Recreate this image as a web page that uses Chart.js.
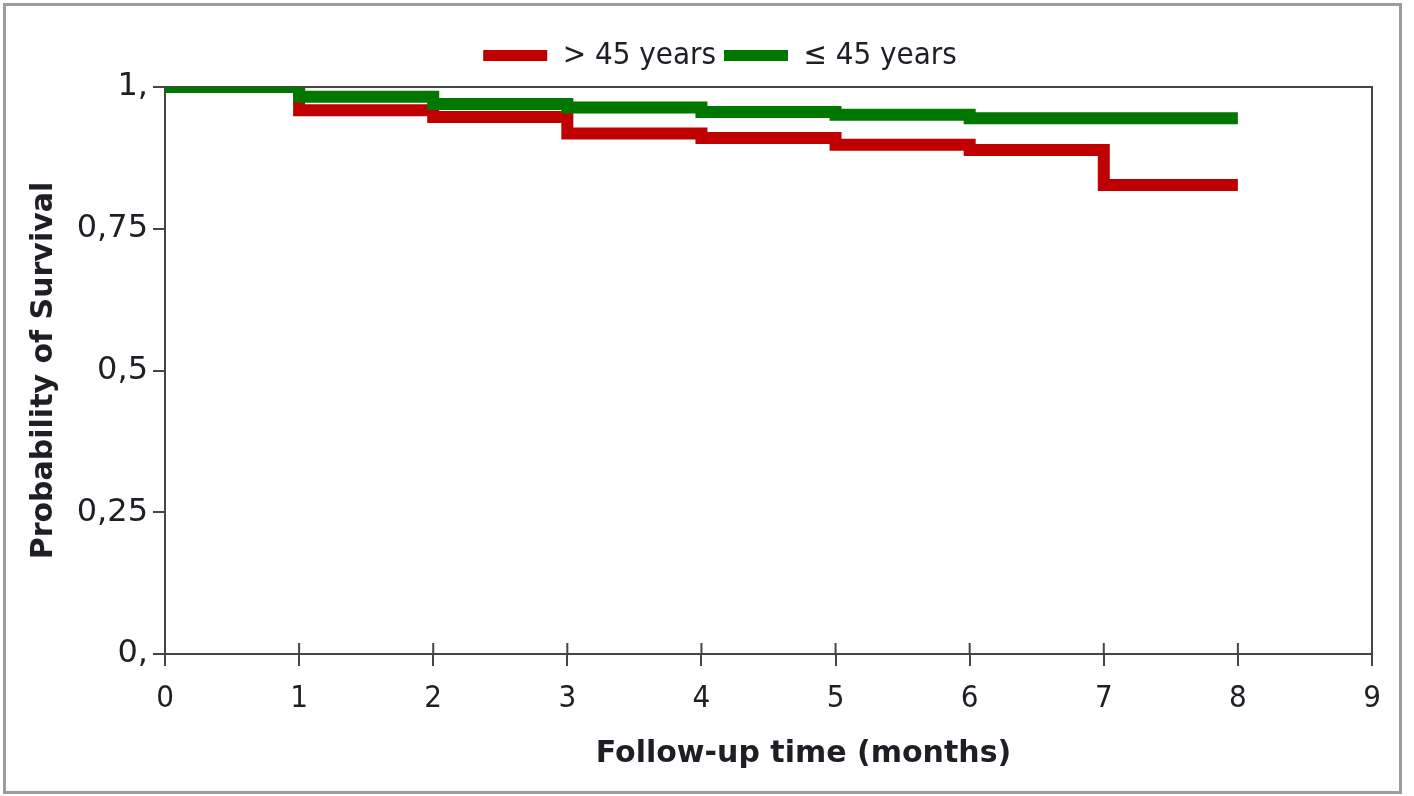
<!DOCTYPE html>
<html><head><meta charset="utf-8">
<script src="https://cdn.jsdelivr.net/npm/chart.js@4.4.1/dist/chart.umd.min.js"></script>
<style>
html,body{margin:0;padding:0;background:#fff;}
#wrap{position:relative;width:1414px;height:796px;}
#frame{position:absolute;left:3px;top:3px;width:1393px;height:785px;border:3px solid #9c9c9c;pointer-events:none;box-sizing:content-box;}
canvas{display:block;}
</style></head><body>
<div id="wrap"><canvas id="c" width="1414" height="796"></canvas><div id="frame"></div></div>
<script>
const seriesNames = ['> 45 years', '\u2264 45 years'];
const timePoints = [0, 1, 2, 3, 4, 5, 6, 7, 8];
const survivalOver45 = [1.0, 0.959, 0.947, 0.918, 0.910, 0.898, 0.889, 0.827, 0.827];
const survivalUpTo45 = [1.0, 0.983, 0.970, 0.964, 0.956, 0.951, 0.945, 0.945, 0.945];
const xTickLabels = ['0', '1', '2', '3', '4', '5', '6', '7', '8', '9'];
const yTickLabels = ['0,', '0,25', '0,5', '0,75', '1,'];
const xAxisTitle = 'Follow-up time (months)';
const yAxisTitle = 'Probability of Survival';

const AREA = {left: 165, right: 1372, top: 87, bottom: 654};
const PAD = {top: 32, left: 26, right: 0, bottom: 0};
const tickFont = {family: '"DejaVu Sans Condensed", "DejaVu Sans", sans-serif', size: 31};
const yTickFont = {family: '"DejaVu Sans", sans-serif', size: 32};
const titleFont = {family: '"DejaVu Sans", sans-serif', size: 30, weight: 'bold'};
const axisColor = '#454545';
const textColor = '#1e1e24';

const extraMarks = {
  id: 'extraMarks',
  afterDraw(chart) {
    const {ctx, chartArea, scales: {x}} = chart;
    ctx.save();
    ctx.strokeStyle = axisColor;
    ctx.lineWidth = 2;
    x.ticks.forEach(t => {
      const px = x.getPixelForValue(t.value);
      ctx.beginPath();
      ctx.moveTo(px, chartArea.bottom);
      ctx.lineTo(px, chartArea.bottom - 11);
      ctx.stroke();
    });
    ctx.fillStyle = textColor;
    ctx.font = 'bold 30px "DejaVu Sans", sans-serif';
    ctx.textAlign = 'center';
    ctx.textBaseline = 'middle';
    ctx.fillText(xAxisTitle, (chartArea.left + chartArea.right) / 2 + 35, chartArea.bottom + 100);
    ctx.restore();
  }
};

const toPoints = ys => timePoints.map((t, i) => ({x: t, y: ys[i]}));

new Chart(document.getElementById('c'), {
  type: 'line',
  data: {
    datasets: [
      {
        label: seriesNames[0],
        data: toPoints(survivalOver45),
        borderColor: '#c00000',
        backgroundColor: '#c00000',
        borderWidth: 12,
        stepped: 'before',
        pointRadius: 0,
        borderJoinStyle: 'miter',
        borderCapStyle: 'butt',
        clip: 0,
        order: 1
      },
      {
        label: seriesNames[1],
        data: toPoints(survivalUpTo45),
        borderColor: '#007800',
        backgroundColor: '#007800',
        borderWidth: 12,
        stepped: 'before',
        pointRadius: 0,
        borderJoinStyle: 'miter',
        borderCapStyle: 'butt',
        clip: 0,
        order: 0
      }
    ]
  },
  options: {
    responsive: false,
    animation: false,
    devicePixelRatio: 1,
    layout: {padding: PAD},
    plugins: {
      tooltip: {enabled: false},
      legend: {
        position: 'top',
        labels: {
          boxWidth: 64,
          boxHeight: 11,
          padding: 8,
          color: textColor,
          font: tickFont,
          sort: (a, b) => a.datasetIndex - b.datasetIndex,
          generateLabels: chart => Chart.defaults.plugins.legend.labels.generateLabels(chart).map(l => ({...l, lineWidth: 0}))
        }
      }
    },
    scales: {
      x: {
        type: 'linear',
        position: 'bottom',
        min: 0, max: 9,
        ticks: {stepSize: 1, color: textColor, font: tickFont, padding: 14, maxRotation: 0,
          callback: (v, i) => xTickLabels[i]},
        grid: {drawOnChartArea: false, tickLength: 12, color: axisColor, lineWidth: 2},
        border: {color: axisColor, width: 2},
        afterFit: s => { s.height = 796 - PAD.bottom - AREA.bottom; }
      },
      y: {
        type: 'linear',
        position: 'left',
        min: 0, max: 1,
        ticks: {stepSize: 0.25, color: textColor, font: yTickFont, padding: 5,
          callback: (v, i) => yTickLabels[i]},
        grid: {drawOnChartArea: false, tickLength: 12, color: axisColor, lineWidth: 2},
        border: {color: axisColor, width: 2},
        title: {display: true, text: yAxisTitle, color: textColor, font: titleFont, padding: 0},
        afterFit: s => { s.width = AREA.left - PAD.left; }
      },
      x2: {
        type: 'linear', position: 'top', min: 0, max: 9,
        ticks: {display: false},
        grid: {display: false, drawTicks: false},
        border: {display: true, color: axisColor, width: 2},
        afterFit: s => { s.height = Math.max(0, AREA.top - PAD.top - s.chart.legend.height); }
      },
      y2: {
        type: 'linear', position: 'right', min: 0, max: 1,
        ticks: {display: false},
        grid: {display: false, drawTicks: false},
        border: {display: true, color: axisColor, width: 2},
        afterFit: s => { s.width = 1414 - PAD.right - AREA.right; }
      }
    }
  },
  plugins: [extraMarks]
});
</script>
</body></html>
